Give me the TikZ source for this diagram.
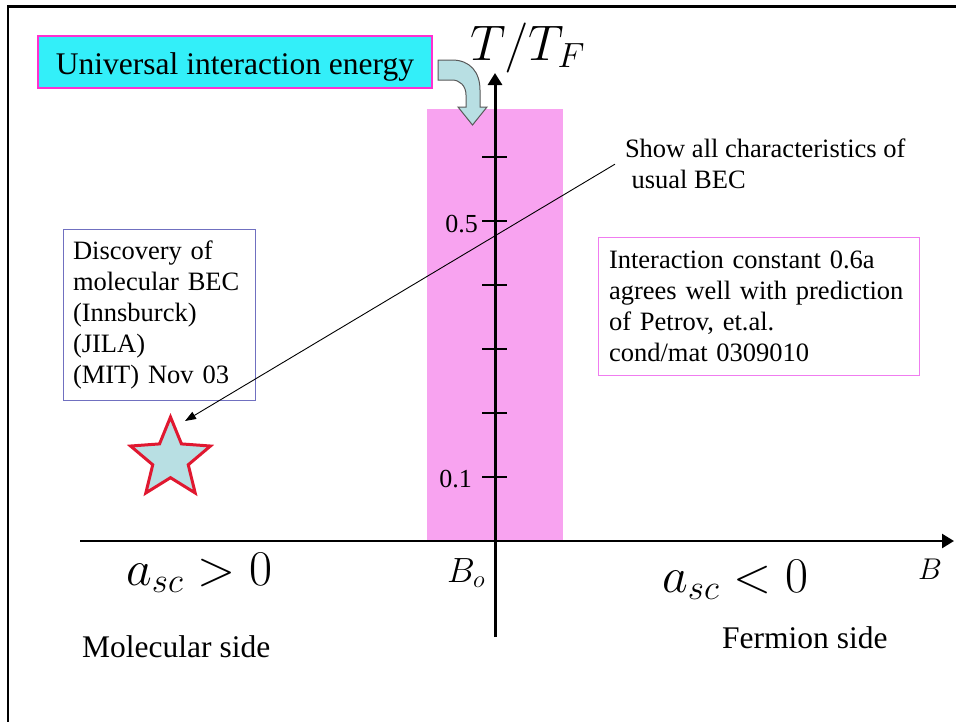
\RequirePackage{fix-cm}
\documentclass[tikz,border=0pt]{standalone}
\usepackage[no-math]{fontspec}
\setmainfont{Liberation Serif}
\usetikzlibrary{arrows.meta,positioning,shapes.geometric,calc}
\definecolor{boxcyan}{HTML}{33EFF9}
\definecolor{boxmagenta}{HTML}{FF30D0}
\definecolor{bandpink}{HTML}{F8A3F0}
\definecolor{paleblue}{HTML}{B8DFE3}
\definecolor{starred}{HTML}{E01830}
\definecolor{notelilac}{HTML}{7070C0}
\definecolor{notepink}{HTML}{F07CF0}
\tikzset{
  notebox/.style={draw, line width=1pt, align=left, font=\fontsize{26.5}{31}\selectfont,
    inner xsep=10pt},
  sidetext/.style={font=\fontsize{31.5}{38}\selectfont, inner sep=0pt, anchor=base west},
  mathtext/.style={inner sep=0pt, anchor=base west},
  ticklabel/.style={font=\fontsize{26}{31}\selectfont, inner sep=0pt, anchor=east},
  axisline/.style={-{Triangle[width=14pt,length=12pt]}, line width=3pt},
  arrow/.style={-{Triangle[width=8pt,length=11pt]}, line width=0.9pt}
}

\begin{document}
\begin{tikzpicture}[x=1pt, y=-1pt]
  \useasboundingbox (0,0) rectangle (956,721);
  \draw[line width=2.5pt] (8,725) |- (960,6.5);

  \fill[bandpink] (427,109) rectangle (563,541);

  \coordinate (ybot) at (495,637);
  \coordinate (ytop) at (495,73);
  \coordinate (xleft) at (80,541);
  \coordinate (xright) at (954,541);
  \draw[axisline] (ybot) -- (ytop);
  \draw[axisline, line width=2.5pt] (xleft) -- (xright);
  \foreach \ty in {157,221,...,477}
    \draw[line width=2pt] (482,\ty) -- (507,\ty);
  \node[ticklabel] (half) at (478,224) {0.5};
  \node[ticklabel] (tenth) at (472,479) {0.1};

  \node[draw=boxmagenta, fill=boxcyan, line width=2pt, font=\fontsize{31.5}{38}\selectfont,
    minimum width=394pt, minimum height=52pt, inner sep=0pt,
    text height=38pt, text depth=14pt] (uie) at (235,62) {Universal interaction energy};
  \filldraw[fill=paleblue, draw=gray!70!black, line width=1pt]
    (438,60) -- (452,60) .. controls (470,60) and (480,72) .. (480,90) -- (480,107)
    -- (487,107) -- (472.5,125) -- (458,107) -- (466,107) -- (466,95)
    .. controls (466,86) and (460,80) .. (452,80) -- (438,80) -- cycle;

  \node[mathtext, font=\fontsize{50}{60}\selectfont] (tlabel) at (470,60) {$T/T_F$};
  \node[mathtext, font=\fontsize{50}{60}\selectfont] (apos) at (126,585) {$a_{sc}>0$};
  \node[mathtext, font=\fontsize{35}{42}\selectfont] (bzero) at (447,582) {$B_o$};
  \node[mathtext, font=\fontsize{50}{60}\selectfont] (aneg) at (662,592) {$a_{sc}<0$};
  \node[mathtext, font=\fontsize{30}{36}\selectfont] (blabel) at (918,579) {$B$};

  \node[sidetext] (molside) at (82,657) {Molecular side};
  \node[sidetext] (fermside) at (722,648) {Fermion side};

  \node[notebox, draw=notelilac, text width=172pt, minimum width=192pt,
    minimum height=171pt] (discovery) at (159,314.5)
    {Discovery of\\molecular BEC\\(Innsburck)\\(JILA)\\(MIT) Nov 03};
  \node[notebox, draw=notepink, inner xsep=11pt, text width=299pt, minimum width=321pt,
    minimum height=138pt] (petrov) at (758.5,306)
    {Interaction constant 0.6a\\agrees well with prediction\\of Petrov, et.al.\\cond/mat 0309010};

  \node[font=\fontsize{26.5}{31}\selectfont, align=left, inner sep=0pt, outer xsep=10pt,
    anchor=north west] (showbec) at (615,139)
    {Show all characteristics of\\\hspace*{.25em}usual BEC};

  \node[star, star points=5, star point ratio=2.25, minimum size=84pt, inner sep=0pt,
    draw=starred, line width=3pt, fill=paleblue] (star) at (170.5,459) {};
  \coordinate (startip) at (185,421);
  \draw[arrow] (showbec.west) -- (startip);
\end{tikzpicture}
\end{document}
